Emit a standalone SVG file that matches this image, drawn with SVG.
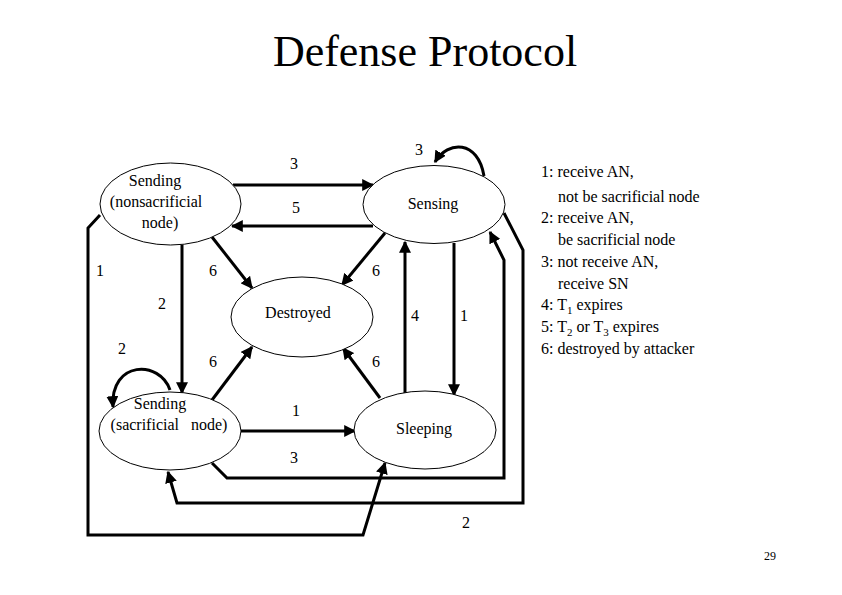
<svg xmlns="http://www.w3.org/2000/svg" width="842" height="595" viewBox="0 0 842 595">
<style>
text{font-family:"Liberation Serif","Times New Roman",serif;fill:#000}
.n{fill:#fff;stroke:#000;stroke-width:1}
.c{fill:none;stroke:#000;stroke-width:3}
.t{font-size:16px;text-anchor:middle}
.l{font-size:16px}
</style>
<defs><marker id="a" viewBox="0 0 10 10" refX="9" refY="5" markerWidth="4" markerHeight="4" orient="auto" markerUnits="strokeWidth"><path d="M0,0L10,5L0,10z"/></marker></defs>
<rect width="842" height="595" fill="#fff"/>
<text x="425" y="66" font-size="44" text-anchor="middle">Defense Protocol</text>
<g id="connectors" class="c" marker-end="url(#a)">
<path d="M233,185H373"/>
<path d="M373,226H232"/>
<path d="M212,237L252,288"/>
<path d="M385,233L342,285"/>
<path d="M182,245V393"/>
<path d="M212,400L252,347"/>
<path d="M380,398L343,348"/>
<path d="M405,393V242"/>
<path d="M454,243V395"/>
<path d="M241,431H355"/>
<path d="M484,176C478,140 448,140 435,162"/>
<path d="M170,390C160,360 110,360 113,407"/>
<path d="M212,463L227,478H504V260L490,232"/>
<path d="M504,213L523,250V503H177L168,472"/>
<path d="M100,215L88,228V535H363L385,463"/>
</g>
<g class="t">
<text x="294" y="169">3</text><text x="296" y="213">5</text>
<text x="213" y="276">6</text><text x="376" y="276">6</text>
<text x="162" y="309">2</text><text x="213" y="367">6</text><text x="376" y="367">6</text>
<text x="415" y="321">4</text><text x="464" y="321">1</text>
<text x="296" y="416">1</text><text x="419" y="155">3</text><text x="122" y="354">2</text>
<text x="294" y="463">3</text><text x="466" y="528">2</text><text x="100" y="276">1</text>
</g>
<g id="n1"><ellipse class="n" cx="170.5" cy="204" rx="70.5" ry="41"/><text class="t" x="155" y="186">Sending</text><text class="t" x="156" y="207">(nonsacrificial</text><text class="t" x="160" y="228">node)</text></g>
<g id="n2"><ellipse class="n" cx="434" cy="204.5" rx="71" ry="39"/><text class="t" x="433" y="209">Sensing</text></g>
<g id="n3"><ellipse class="n" cx="302" cy="317" rx="71" ry="40"/><text class="t" x="298" y="318">Destroyed</text></g>
<g id="n4"><ellipse class="n" cx="170" cy="431" rx="71" ry="39"/><text class="t" x="160" y="409">Sending</text><text class="t" x="169" y="430" xml:space="preserve">(sacrificial   node)</text></g>
<g id="n5"><ellipse class="n" cx="425" cy="430" rx="71" ry="39"/><text class="t" x="424" y="434">Sleeping</text></g>
<g id="legend" class="l">
<text x="541" y="177">1: receive AN,</text>
<text x="558" y="202">not be sacrificial node</text>
<text x="541" y="223">2: receive AN,</text>
<text x="558" y="245">be sacrificial node</text>
<text x="541" y="267">3: not receive AN,</text>
<text x="558" y="289">receive SN</text>
<text x="541" y="310">4: T<tspan font-size="11" dy="4">1</tspan><tspan dy="-4"> expires</tspan></text>
<text x="541" y="332">5: T<tspan font-size="11" dy="4">2</tspan><tspan dy="-4"> or T</tspan><tspan font-size="11" dy="4">3</tspan><tspan dy="-4"> expires</tspan></text>
<text x="541" y="354">6: destroyed by attacker</text>
</g>
<text x="770" y="560" font-size="12" text-anchor="middle">29</text>
</svg>
